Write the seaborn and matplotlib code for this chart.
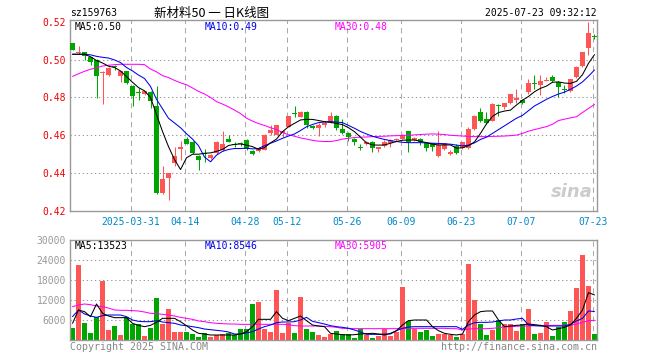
"""新材料50 daily K-line chart with volume panel (Sina style)"""
import matplotlib
matplotlib.use('Agg')
import matplotlib.pyplot as plt
import seaborn as sns
import numpy as np
import pandas as pd

# x axis labels (trading-day index -> label)
tick_idx = [10, 19, 29, 36, 46, 55, 65, 75, 87]
tick_labels = ['2025-03-31', '04-14', '04-28', '05-12', '05-26', '06-09', '06-23', '07-07', '07-23']

opens = [0.5088, 0.5035, 0.5039, 0.5012, 0.4998, 0.4930, 0.4919, 0.4965, 0.4911, 0.4937,
         0.4858, 0.4825, 0.4819, 0.4828, 0.4756, 0.4293, 0.4375, 0.4451, 0.4530, 0.4581,
         0.4567, 0.4493, 0.4505, 0.4479, 0.4507, 0.4521, 0.4582, 0.4553, 0.4558, 0.4575,
         0.4516, 0.4519, 0.4523, 0.4614, 0.4602, 0.4611, 0.4646, 0.4712, 0.4698, 0.4725,
         0.4649, 0.4637, 0.4655, 0.4672, 0.4702, 0.4633, 0.4614, 0.4581, 0.4534, 0.4554,
         0.4565, 0.4530, 0.4544, 0.4558, 0.4574, 0.4581, 0.4623, 0.4575, 0.4581, 0.4558,
         0.4558, 0.4491, 0.4526, 0.4502, 0.4546, 0.4532, 0.4532, 0.4632, 0.4721, 0.4686,
         0.4677, 0.4758, 0.4751, 0.4768, 0.4789, 0.4786, 0.4830, 0.4876, 0.4865, 0.4889,
         0.4909, 0.4882, 0.4841, 0.4833, 0.4909, 0.4965, 0.5061, 0.5121]
highs = [0.5090, 0.5070, 0.5042, 0.5014, 0.5002, 0.4940, 0.4960, 0.4972, 0.4942, 0.4940,
         0.4867, 0.4848, 0.4833, 0.4835, 0.4858, 0.4437, 0.4403, 0.4539, 0.4568, 0.4590,
         0.4570, 0.4497, 0.4525, 0.4500, 0.4568, 0.4625, 0.4600, 0.4565, 0.4565, 0.4580,
         0.4522, 0.4540, 0.4605, 0.4654, 0.4656, 0.4625, 0.4703, 0.4754, 0.4726, 0.4727,
         0.4655, 0.4664, 0.4677, 0.4725, 0.4705, 0.4684, 0.4618, 0.4583, 0.4555, 0.4570,
         0.4568, 0.4537, 0.4575, 0.4580, 0.4583, 0.4605, 0.4625, 0.4590, 0.4585, 0.4562,
         0.4560, 0.4623, 0.4560, 0.4520, 0.4555, 0.4567, 0.4642, 0.4706, 0.4742, 0.4721,
         0.4768, 0.4765, 0.4770, 0.4820, 0.4842, 0.4790, 0.4896, 0.4918, 0.4918, 0.4907,
         0.4918, 0.4885, 0.4865, 0.4896, 0.4967, 0.5042, 0.5200, 0.5137]
lows = [0.5050, 0.5028, 0.4998, 0.4970, 0.4796, 0.4765, 0.4915, 0.4945, 0.4880, 0.4870,
        0.4753, 0.4785, 0.4815, 0.4744, 0.4288, 0.4288, 0.4258, 0.4440, 0.4468, 0.4555,
        0.4500, 0.4419, 0.4460, 0.4475, 0.4500, 0.4515, 0.4563, 0.4540, 0.4545, 0.4520,
        0.4495, 0.4512, 0.4520, 0.4600, 0.4600, 0.4590, 0.4645, 0.4695, 0.4695, 0.4637,
        0.4635, 0.4598, 0.4645, 0.4665, 0.4630, 0.4605, 0.4570, 0.4550, 0.4520, 0.4550,
        0.4510, 0.4510, 0.4540, 0.4540, 0.4570, 0.4578, 0.4511, 0.4570, 0.4550, 0.4515,
        0.4519, 0.4487, 0.4524, 0.4496, 0.4500, 0.4525, 0.4528, 0.4630, 0.4670, 0.4660,
        0.4675, 0.4704, 0.4740, 0.4766, 0.4770, 0.4765, 0.4817, 0.4847, 0.4812, 0.4885,
        0.4880, 0.4800, 0.4823, 0.4830, 0.4905, 0.4962, 0.5026, 0.5111]
closes = [0.5051, 0.5042, 0.5021, 0.4989, 0.4911, 0.4935, 0.4958, 0.4962, 0.4940, 0.4875,
          0.4809, 0.4821, 0.4832, 0.4779, 0.4293, 0.4370, 0.4402, 0.4493, 0.4534, 0.4556,
          0.4504, 0.4468, 0.4502, 0.4498, 0.4567, 0.4554, 0.4567, 0.4550, 0.4552, 0.4525,
          0.4503, 0.4535, 0.4602, 0.4628, 0.4654, 0.4623, 0.4702, 0.4710, 0.4725, 0.4654,
          0.4640, 0.4654, 0.4663, 0.4702, 0.4637, 0.4614, 0.4593, 0.4567, 0.4532, 0.4567,
          0.4535, 0.4535, 0.4567, 0.4575, 0.4581, 0.4602, 0.4567, 0.4588, 0.4562, 0.4535,
          0.4537, 0.4549, 0.4558, 0.4514, 0.4505, 0.4563, 0.4633, 0.4704, 0.4677, 0.4667,
          0.4765, 0.4755, 0.4768, 0.4817, 0.4793, 0.4768, 0.4877, 0.4872, 0.4888, 0.4893,
          0.4886, 0.4856, 0.4837, 0.4895, 0.4961, 0.5040, 0.5140, 0.5118]

# price moving averages
price_ma5 = [0.5028, 0.5028, 0.5028, 0.5015, 0.4995, 0.4982, 0.4965, 0.4958, 0.4940, 0.4910,
             0.4880, 0.4852, 0.4835, 0.4800, 0.4709, 0.4620, 0.4540, 0.4472, 0.4419, 0.4481,
             0.4500, 0.4500, 0.4505, 0.4507, 0.4515, 0.4525, 0.4546, 0.4552, 0.4554, 0.4548,
             0.4540, 0.4526, 0.4535, 0.4560, 0.4580, 0.4619, 0.4645, 0.4663, 0.4681, 0.4684,
             0.4684, 0.4678, 0.4672, 0.4668, 0.4663, 0.4656, 0.4640, 0.4619, 0.4590, 0.4560,
             0.4549, 0.4548, 0.4549, 0.4558, 0.4567, 0.4574, 0.4575, 0.4575, 0.4568, 0.4561,
             0.4553, 0.4549, 0.4549, 0.4549, 0.4532, 0.4534, 0.4545, 0.4565, 0.4610, 0.4660,
             0.4700, 0.4720, 0.4728, 0.4733, 0.4760, 0.4785, 0.4805, 0.4830, 0.4848, 0.4860,
             0.4880, 0.4882, 0.4876, 0.4874, 0.4885, 0.4920, 0.4980, 0.5026]
price_ma10 = [0.5028, 0.5028, 0.5028, 0.5025, 0.5017, 0.5012, 0.5008, 0.4998, 0.4984, 0.4958,
              0.4940, 0.4918, 0.4900, 0.4858, 0.4790, 0.4740, 0.4690, 0.4665, 0.4640, 0.4608,
              0.4580, 0.4545, 0.4485, 0.4460, 0.4495, 0.4515, 0.4525, 0.4530, 0.4530, 0.4532,
              0.4528, 0.4530, 0.4545, 0.4558, 0.4570, 0.4584, 0.4596, 0.4607, 0.4625, 0.4645,
              0.4657, 0.4667, 0.4670, 0.4672, 0.4670, 0.4667, 0.4652, 0.4637, 0.4620, 0.4607,
              0.4595, 0.4586, 0.4578, 0.4572, 0.4567, 0.4563, 0.4561, 0.4561, 0.4561, 0.4560,
              0.4558, 0.4557, 0.4555, 0.4553, 0.4548, 0.4544, 0.4548, 0.4560, 0.4578, 0.4590,
              0.4610, 0.4630, 0.4650, 0.4670, 0.4690, 0.4705, 0.4730, 0.4755, 0.4772, 0.4790,
              0.4805, 0.4818, 0.4828, 0.4843, 0.4860, 0.4882, 0.4912, 0.4945]
price_ma30 = [0.4911, 0.4925, 0.4938, 0.4949, 0.4956, 0.4966, 0.4970, 0.4973, 0.4975, 0.4975,
              0.4975, 0.4975, 0.4973, 0.4950, 0.4935, 0.4915, 0.4905, 0.4890, 0.4877, 0.4867,
              0.4850, 0.4832, 0.4818, 0.4800, 0.4778, 0.4765, 0.4750, 0.4733, 0.4715, 0.4690,
              0.4675, 0.4662, 0.4652, 0.4640, 0.4630, 0.4615, 0.4603, 0.4595, 0.4586, 0.4580,
              0.4573, 0.4569, 0.4567, 0.4567, 0.4572, 0.4580, 0.4584, 0.4588, 0.4590, 0.4591,
              0.4593, 0.4594, 0.4595, 0.4597, 0.4598, 0.4599, 0.4600, 0.4602, 0.4604, 0.4606,
              0.4607, 0.4606, 0.4604, 0.4600, 0.4598, 0.4596, 0.4594, 0.4593, 0.4593, 0.4593,
              0.4594, 0.4595, 0.4596, 0.4598, 0.4601, 0.4610, 0.4622, 0.4630, 0.4638, 0.4646,
              0.4658, 0.4678, 0.4685, 0.4692, 0.4698, 0.4720, 0.4742, 0.4763]

volumes = [3700, 22600, 5100, 2100, 6800, 17800, 3100, 4200, 1600, 6800,
           4900, 4700, 1200, 3600, 12700, 4700, 9300, 2500, 2500, 2500,
           1800, 1000, 2000, 1000, 1400, 1800, 2000, 1400, 3200, 3200,
           10800, 11500, 3400, 2400, 15000, 2200, 5000, 2200, 12900, 3400,
           2500, 1500, 1000, 1700, 2700, 1700, 1700, 700, 3300, 1500,
           700, 1300, 3300, 1200, 2400, 15900, 5800, 3400, 2400, 3000,
           1200, 1900, 1700, 1500, 900, 1700, 22800, 12000, 4800, 1500,
           3000, 6000, 4700, 4800, 2700, 4700, 9300, 1800, 2100, 5400,
           1200, 4000, 5400, 8700, 15600, 25500, 16200, 1800]
vol_ma5 = [5000, 9000, 8500, 7000, 10800, 8000, 7200, 6700, 6700, 6700,
           5000, 4400, 4000, 4400, 5300, 6500, 6500, 6500, 5500, 4300,
           3000, 2000, 1800, 1500, 1500, 1500, 1500, 1500, 1800, 2500,
           4000, 6200, 6200, 6200, 8500, 6500, 5800, 6500, 7200, 5800,
           4500, 4200, 4000, 2000, 1800, 1600, 1500, 1600, 1800, 1900,
           2000, 1800, 1500, 2000, 2800, 4500, 5800, 6000, 6000, 6000,
           4000, 2800, 2000, 1700, 1500, 1800, 5500, 7500, 8500, 8700,
           8700, 6000, 4000, 4200, 4400, 4500, 4800, 4600, 4400, 4000,
           3000, 3400, 3800, 4500, 6500, 9000, 14200, 13523]
vol_ma10 = [7000, 9000, 7800, 7200, 6800, 7300, 7500, 7500, 7500, 7000,
            6000, 5600, 5500, 5500, 5800, 5400, 5200, 5000, 4500, 4300,
            4000, 3700, 3300, 3100, 2900, 2700, 2400, 1800, 1800, 2100,
            2500, 3300, 4000, 4500, 5200, 5400, 5400, 5500, 6000, 6800,
            5600, 5200, 4800, 4300, 4000, 3800, 3500, 3000, 2400, 1700,
            1700, 1700, 1800, 1800, 2800, 3500, 3900, 4000, 4000, 4000,
            4000, 4000, 4000, 4000, 4000, 3200, 4500, 5200, 5300, 5300,
            5400, 5700, 6000, 6000, 6300, 6500, 4500, 4300, 4200, 4200,
            4200, 4200, 4200, 4700, 5700, 6500, 8700, 8546]
vol_ma30 = [10000, 10500, 10800, 10600, 10200, 10000, 9600, 9000, 8900, 8900,
            8800, 8700, 8400, 8000, 7900, 7700, 7500, 7200, 6800, 6500,
            6200, 5700, 5500, 5200, 5000, 4900, 4800, 4800, 4700, 4700,
            4700, 4700, 4700, 4700, 4700, 4700, 4600, 4300, 4200, 4200,
            4200, 4200, 4100, 4000, 3800, 3500, 3500, 3400, 3400, 3400,
            3400, 3400, 3400, 3400, 3400, 3400, 3500, 3500, 3500, 3500,
            3500, 3500, 3500, 3400, 3400, 3000, 3300, 3400, 3400, 3400,
            3500, 3700, 3900, 4000, 4100, 4200, 4200, 4300, 4300, 4300,
            4400, 4400, 4400, 4500, 4800, 5300, 5800, 5905]

UP = '#ff5555'
DOWN = '#00a600'
GRID = '#aaaaaa'
MONO = 'DejaVu Sans Mono'
LW = 0.75   # ~1 px

sns.set_style('white')
plt.rcParams['font.family'] = [MONO, 'DejaVu Sans']

df = pd.DataFrame({'idx': np.arange(len(closes)), 'open': opens, 'high': highs,
                   'low': lows, 'close': closes, 'volume': volumes})
df['dir'] = np.where(df['close'] >= df['open'], 'up', 'down')
colors = df['dir'].map({'up': UP, 'down': DOWN})

W, H = 660, 360
fig = plt.figure(figsize=(W / 100, H / 100), dpi=100)
ax = fig.add_axes([70 / W, 1 - 211 / H, 527 / W, 191 / H])
axv = fig.add_axes([70 / W, 1 - 340 / H, 527 / W, 100 / H])

xlim = (-0.42, 87.42)
grid_x = [i - 0.3 for i in tick_idx]

# ---- price panel ----
for a in (ax, axv):
    for g in grid_x:
        a.axvline(g, color=GRID, lw=LW, ls=(0, (5, 4)), zorder=0)
for y in [0.44, 0.46, 0.48, 0.50]:
    ax.axhline(y, color='#999999', lw=LW, ls=(0, (1.3, 2.6)), zorder=0)

ax.vlines(df['idx'], df['low'], df['high'], colors=colors, lw=LW, zorder=2)
body_lo = np.minimum(df['open'], df['close'])
body_h = np.maximum(np.abs(df['close'] - df['open']), 0.00055)
ax.bar(df['idx'], body_h, bottom=body_lo, width=0.8, color=colors, lw=0, zorder=3)

sns.lineplot(x=df['idx'], y=price_ma30, ax=ax, color='#ff00ff', lw=LW, zorder=4)
sns.lineplot(x=df['idx'], y=price_ma10, ax=ax, color='#0000ee', lw=LW, zorder=4)
sns.lineplot(x=df['idx'], y=price_ma5, ax=ax, color='black', lw=LW, zorder=4)

ax.set_xlim(*xlim)
ax.set_ylim(0.4200, 0.5209)
ax.set_yticks([0.42, 0.44, 0.46, 0.48, 0.50, 0.52])
ax.set_yticklabels([f'{v:.2f}' for v in [0.42, 0.44, 0.46, 0.48, 0.50, 0.52]])
ax.tick_params(axis='y', colors='#ee0000', labelsize=7, length=0, pad=3)
ax.set_xticks(grid_x)
ax.set_xticklabels(tick_labels)
ax.tick_params(axis='x', colors='#0088cc', labelsize=7, length=0, pad=4)
ax.set_xlabel('')
ax.set_ylabel('')

# ---- volume panel ----
for y in [6000, 12000, 18000, 24000]:
    axv.axhline(y, color='#999999', lw=LW, ls=(0, (1.3, 2.6)), zorder=0)
sns.barplot(data=df, x='idx', y='volume', hue='dir', palette={'up': UP, 'down': DOWN},
            native_scale=True, width=0.8, dodge=False, errorbar=None, saturation=1,
            legend=False, linewidth=0, ax=axv, zorder=2)
sns.lineplot(x=df['idx'], y=vol_ma30, ax=axv, color='#ff00ff', lw=LW, zorder=4)
sns.lineplot(x=df['idx'], y=vol_ma10, ax=axv, color='#0000ee', lw=LW, zorder=4)
sns.lineplot(x=df['idx'], y=vol_ma5, ax=axv, color='black', lw=LW, zorder=4)
axv.set_xlim(*xlim)
axv.set_ylim(0, 30000)
axv.set_yticks([6000, 12000, 18000, 24000, 30000])
axv.set_yticklabels(['6000', '12000', '18000', '24000', '30000'])
axv.tick_params(axis='y', colors='#999999', labelsize=7, length=0, pad=3)
axv.set_xticks([])
axv.set_xlabel('')
axv.set_ylabel('')

for a in (ax, axv):
    for s in a.spines.values():
        s.set_color('#999999')
        s.set_linewidth(1)
        s.set_visible(True)

# ---- texts ----
def px(x, y, s, **kw):
    fig.text(x / W, 1 - y / H, s, va='center', **kw)

px(70, 13, 'sz159763', fontsize=7, color='black')
px(212, 13, '新材料50 一 日K线图', fontsize=9, color='black', ha='center',
   family=['Noto Sans CJK SC', 'DejaVu Sans'])
px(597, 13, '2025-07-23 09:32:12', fontsize=7, color='black', ha='right')
px(75, 27, 'MA5:0.50', fontsize=7, color='black')
px(205, 27, 'MA10:0.49', fontsize=7, color='#0000ee')
px(335, 27, 'MA30:0.48', fontsize=7, color='#ff00ff')
px(75, 246, 'MA5:13523', fontsize=7, color='black')
px(205, 246, 'MA10:8546', fontsize=7, color='#0000ee')
px(335, 246, 'MA30:5905', fontsize=7, color='#ff00ff')
px(70, 347, 'Copyright 2025 SINA.COM', fontsize=7.2, color='#888888')
px(597, 347, 'http://finance.sina.com.cn', fontsize=7.2, color='#888888', ha='right')
px(572, 192, 'sina', fontsize=13, color='#cccccc', ha='center', style='italic',
   weight='bold', family='DejaVu Sans')

fig.savefig('out.png', dpi=100)
